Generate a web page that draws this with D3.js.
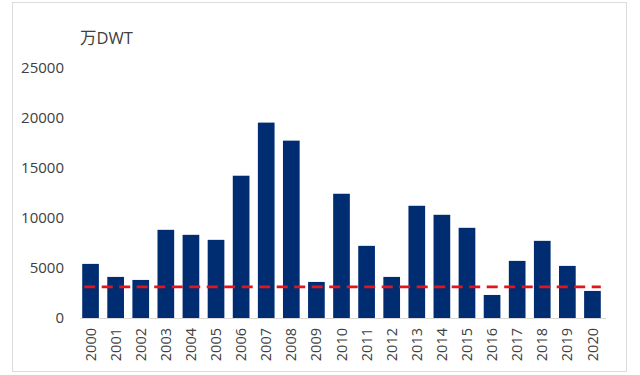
<!DOCTYPE html>
<html>
<head>
<meta charset="utf-8">
<script src="https://cdn.jsdelivr.net/npm/d3@7"></script>
<style>
  body { margin: 0; background: #fff; }
  text { font-family: "Open Sans", "Noto Sans CJK SC", sans-serif; fill: #404040; }
</style>
</head>
<body>
<svg class="chart"></svg>
<script>
// Chart data
var years = ["2000", "2001", "2002", "2003", "2004", "2005", "2006", "2007", "2008", "2009", "2010",
             "2011", "2012", "2013", "2014", "2015", "2016", "2017", "2018", "2019", "2020"];
var tonnage = [5400, 4100, 3800, 8800, 8300, 7800, 14200, 19500, 17700, 3600, 12400,
               7200, 4100, 11200, 10300, 9000, 2300, 5700, 7700, 5200, 2700];
var averageLine = [3100];
var yTicks = [0, 5000, 10000, 15000, 20000, 25000];
var unitLabel = "万DWT";

// Canvas size
var width = 640;
var height = 375;

var svg = d3.select(".chart")
    .attr("width", width)
    .attr("height", height);

// Light frame round the picture
svg.append("rect")
    .attr("x", 12.5)
    .attr("y", 2.5)
    .attr("width", 614)
    .attr("height", 369)
    .attr("fill", "none")
    .attr("stroke", "#dcdcdc");

// Scales
var xScale = d3.scaleBand()
    .domain(years)
    .range([78, 605])
    .paddingInner(0.335)
    .paddingOuter(0.1675);

var yScale = d3.scaleLinear()
    .domain([0, 25000])
    .range([318, 67.5]);

// Bars
svg.selectAll("rect.bar")
    .data(tonnage)
    .enter().append("rect")
    .attr("class", "bar")
    .attr("x", function(d, i) { return xScale(years[i]); })
    .attr("y", function(d) { return yScale(d); })
    .attr("width", xScale.bandwidth())
    .attr("height", function(d) { return yScale(0) - yScale(d); })
    .attr("fill", "#002d72");

// Baseline
svg.append("line")
    .attr("x1", 80)
    .attr("x2", 606)
    .attr("y1", yScale(0) + 0.5)
    .attr("y2", yScale(0) + 0.5)
    .attr("stroke", "#d9d9d9")
    .attr("stroke-width", 1);

// Dashed average line
svg.selectAll("line.avg")
    .data(averageLine)
    .enter().append("line")
    .attr("class", "avg")
    .attr("x1", xScale(years[0]) + 2)
    .attr("x2", xScale(years[years.length - 1]) + xScale.bandwidth())
    .attr("y1", function(d) { return yScale(d); })
    .attr("y2", function(d) { return yScale(d); })
    .attr("stroke", "#e3141b")
    .attr("stroke-width", 2.8)
    .attr("stroke-dasharray", "11,6.5");

// Y axis labels (no axis line)
var yAxis = d3.axisLeft(yScale)
    .tickValues(yTicks)
    .tickSize(0)
    .tickPadding(0)
    .tickFormat(d3.format("d"));

var yAxisG = svg.append("g")
    .attr("transform", "translate(64, 0)")
    .call(yAxis);
yAxisG.select(".domain").remove();
yAxisG.selectAll("text")
    .style("font-size", "15px")
    .style("fill", "#404040")
    .style("font-family", "'Open Sans', sans-serif");

// X axis labels, rotated
var xAxis = d3.axisBottom(xScale).tickSize(0).tickPadding(0);
var xAxisG = svg.append("g")
    .attr("transform", "translate(0, 328)")
    .call(xAxis);
xAxisG.select(".domain").remove();
xAxisG.selectAll("text")
    .attr("transform", "rotate(-90)")
    .attr("text-anchor", "end")
    .attr("x", 0)
    .attr("y", 0)
    .attr("dy", "0.35em")
    .style("font-size", "14.5px")
    .style("fill", "#404040")
    .style("font-family", "'Open Sans', sans-serif");

// Unit label
svg.append("text")
    .attr("x", 80)
    .attr("y", 44)
    .style("font-size", "16.5px")
    .text(unitLabel);
</script>
</body>
</html>
